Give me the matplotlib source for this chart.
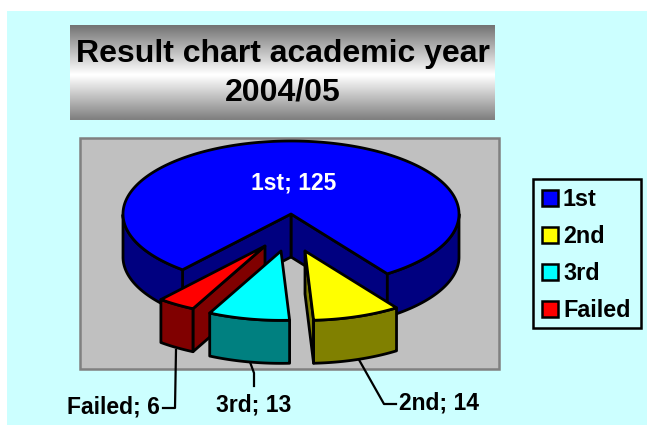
import numpy as np
import matplotlib
matplotlib.use('Agg')
import matplotlib.pyplot as plt
from matplotlib.patches import Rectangle, Polygon

plt.rcParams['font.family'] = ['Liberation Sans', 'DejaVu Sans']
plt.rcParams['font.weight'] = 'bold'

categories = ['1st', '2nd', '3rd', 'Failed']
values = [125, 14, 13, 6]

# look of the slices
top_colors = ['#0000FF', '#FFFF00', '#00FFFF', '#FF0000']
side_colors = ['#000080', '#808000', '#008080', '#800000']
shift_x = [0, 14, -10, -26]
shift_y = [0, 37, 37, 32]
shrink = [1.0, 0.95, 0.95, 0.96]
draw_order = [0, 3, 2, 1]

cx, cy = 291, 214
rx, ry = 168, 73
depth = 43
start_angle = 229.8
line_w = 2


def ell(a, r, ox, oy):
    return ox + r * rx * np.cos(np.radians(a)), oy - r * ry * np.sin(np.radians(a))


fig = plt.figure(figsize=(6.47, 4.25), dpi=100, facecolor='white')
ax = fig.add_axes([0, 0, 1, 1])

# background, title box, plot area
ax.add_patch(Rectangle((7, 11), 640, 413.5, fc='#CCFFFF', ec='none', zorder=0))
shades = np.concatenate([np.linspace(0.45, 1, 50), np.linspace(1, 0.5, 45)])
ax.imshow(shades[:, None], cmap='gray', vmin=0, vmax=1, extent=(70, 495, 120, 25),
          aspect='auto', zorder=1, interpolation='bilinear')
ax.text(283, 54, 'Result chart academic year', fontsize=23, ha='center', va='center', zorder=2)
ax.text(283, 92, '2004/05', fontsize=23, ha='center', va='center', zorder=2)
ax.add_patch(Rectangle((80, 137.5), 419, 231.5, fc='#C0C0C0', ec='#808080', lw=1.8, zorder=1))

# the pie, drawn back to front
ends = start_angle - np.cumsum(values) / np.sum(values) * 360
starts = np.concatenate([[start_angle], ends[:-1]])
z = 3
for i in draw_order:
    high, low = starts[i], ends[i]
    ox, oy = cx + shift_x[i], cy + shift_y[i]
    r = shrink[i]
    # cut faces
    for edge in (low, high):
        facing = np.cos(np.radians(edge)) > 0 if edge == low else np.cos(np.radians(edge)) < 0
        if facing:
            ex, ey = ell(edge, r, ox, oy)
            ax.add_patch(Polygon([(ox, oy), (ex, ey), (ex, ey + depth), (ox, oy + depth)],
                                 fc=side_colors[i], ec='black', lw=line_w, joinstyle='round', zorder=z))
            z += 1
    # outer wall, only the part turned to the viewer
    a = np.linspace(low, high, 400)
    front = np.sin(np.radians(a)) <= 0
    for part in np.split(a, np.where(np.diff(front.astype(int)) != 0)[0] + 1):
        if np.sin(np.radians(part[len(part) // 2])) > 0:
            continue
        px, py = ell(part, r, ox, oy)
        pts = np.r_[np.c_[px, py], np.c_[px, py + depth][::-1]]
        ax.add_patch(Polygon(pts, fc=side_colors[i], ec='black', lw=line_w, joinstyle='round', zorder=z))
        z += 1
    # top
    px, py = ell(a, r, ox, oy)
    pts = np.r_[[[ox, oy]], np.c_[px, py]]
    ax.add_patch(Polygon(pts, fc=top_colors[i], ec='black', lw=line_w, joinstyle='round', zorder=z))
    z += 1

# data labels with leader lines
labels = ['%s; %d' % (c, v) for c, v in zip(categories, values)]
ax.text(294, 183, labels[0], color='white', fontsize=16.5, ha='center', va='center', zorder=50)
ax.text(399, 403, labels[1], fontsize=16.5, ha='left', va='center', zorder=50)
ax.text(254, 405, labels[2], fontsize=16.5, ha='center', va='center', zorder=50)
ax.text(160, 407, labels[3], fontsize=16.5, ha='right', va='center', zorder=50)
ax.plot([358, 384, 396], [358, 404, 404], color='black', lw=1.6, zorder=2)
ax.plot([250, 254, 254], [362, 373, 386], color='black', lw=1.6, zorder=2)
ax.plot([176, 175, 163], [350, 408, 408], color='black', lw=1.6, zorder=2)

# legend
ax.add_patch(Rectangle((533, 179), 108, 149, fc='#CCFFFF', ec='black', lw=1.8, zorder=2))
for i, c in enumerate(categories):
    y = 190 + i * 37
    ax.add_patch(Rectangle((542, y), 16, 16, fc=top_colors[i], ec='black', lw=1.8, zorder=3))
    ax.text(563, y + 9.5, c, fontsize=16.8, ha='left', va='center', zorder=3)

ax.set_xlim(0, 647)
ax.set_ylim(425, 0)
ax.axis('off')
fig.savefig('out.png', dpi=100)
